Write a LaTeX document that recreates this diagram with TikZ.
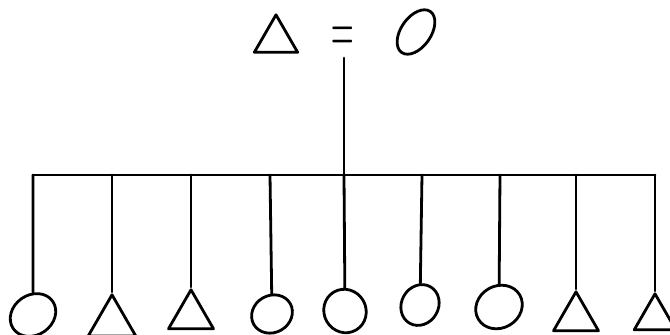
\documentclass[tikz,border=0pt]{standalone}
\usetikzlibrary{shapes.geometric}
\begin{document}
\begin{tikzpicture}[x=1pt,y=-1pt,line width=2.8pt,line cap=round,line join=round,
  tri/.style={regular polygon,regular polygon sides=3,draw,inner sep=0pt,minimum size=#1,anchor=corner 1},
  tri/.default=52pt,
  ring/.style={ellipse,draw,inner sep=0pt},
  eqsign/.style={inner sep=0pt,font=\fontsize{24}{24}\selectfont}]
\useasboundingbox (0,0) rectangle (670,335);
% top couple
\node[tri=50pt] (ta) at (276,12) {};
\node[eqsign] (eq) at (343,40) {\scalebox{1.3}[3.1]{=}};
\node[ring,minimum width=30pt,minimum height=50pt,rotate=-35] (tb) at (416,32) {};
% junctions on the bar
\coordinate (j1) at (33,175);
\coordinate (j2) at (112,175);
\coordinate (j3) at (191,175);
\coordinate (j4) at (270,175);
\coordinate (j5) at (344,175);
\coordinate (j6) at (422,175);
\coordinate (j7) at (500,175);
\coordinate (j8) at (576,175);
\coordinate (j9) at (655,175);
\coordinate (top) at (344,58);
% children
\node[ring,minimum width=48pt,minimum height=40pt,rotate=35] (c1) at (33,315) {};
\node[tri=55pt] (c2) at (112,292) {};
\node[tri=52pt] (c3) at (191,287) {};
\node[ring,minimum width=42pt,minimum height=37pt,rotate=30] (c4) at (272,314) {};
\node[ring,minimum width=42pt,minimum height=44pt,rotate=30] (c5) at (345,311) {};
\node[ring,minimum width=42pt,minimum height=37pt,rotate=60] (c6) at (420,305) {};
\node[ring,minimum width=48pt,minimum height=42pt,rotate=30] (c7) at (499,307) {};
\node[tri=52pt] (c8) at (576,289) {};
\node[tri=48pt] (c9) at (655,291) {};
% connectors
\draw (top) -- (j5);
\draw (j1) -- (j9);
\draw (j1) -- (c1);
\draw (j2) -- (c2.corner 1);
\draw (j3) -- (c3.corner 1);
\draw (j4) -- (c4);
\draw (j5) -- (c5);
\draw (j6) -- (c6);
\draw (j7) -- (c7);
\draw (j8) -- (c8.corner 1);
\draw (j9) -- (c9.corner 1);
\end{tikzpicture}
\end{document}
